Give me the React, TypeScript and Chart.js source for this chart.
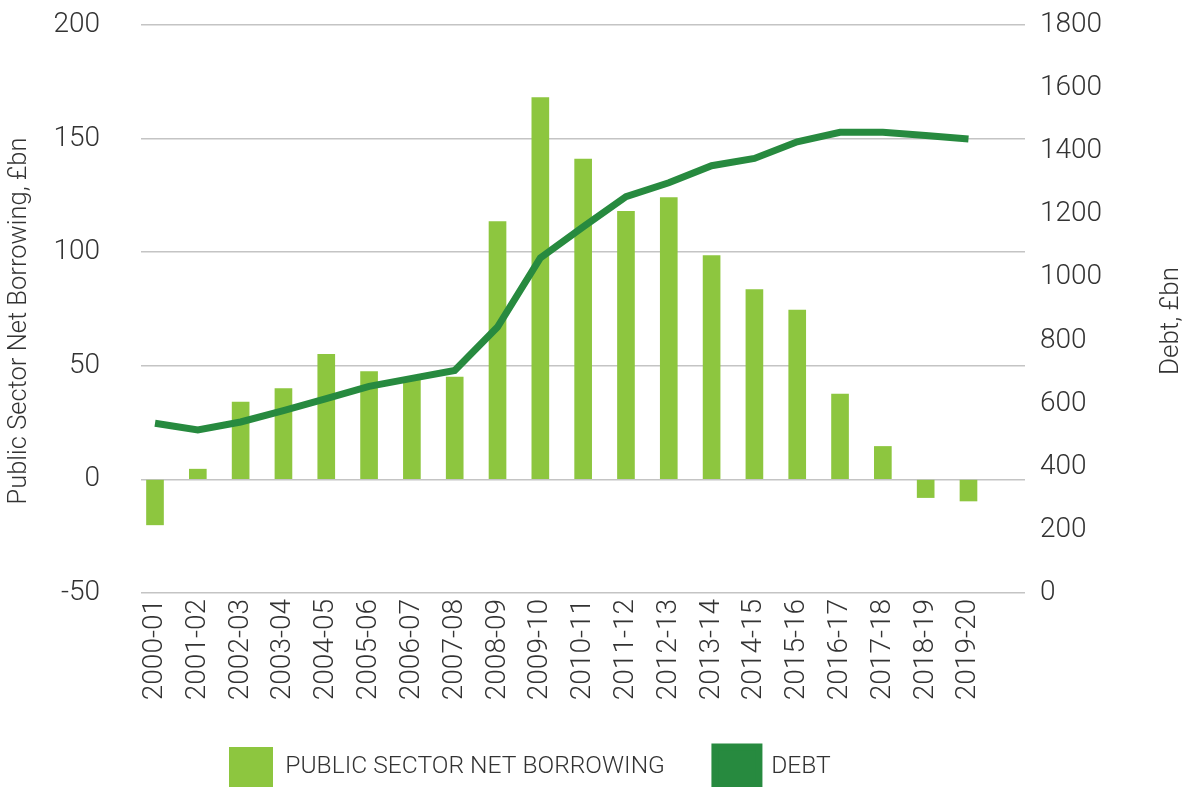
import React, { useEffect, useRef } from "react";
import { Chart, registerables } from "chart.js";

Chart.register(...registerables);

const categories = [
  "2000-01", "2001-02", "2002-03", "2003-04", "2004-05", "2005-06", "2006-07",
  "2007-08", "2008-09", "2009-10", "2010-11", "2011-12", "2012-13", "2013-14",
  "2014-15", "2015-16", "2016-17", "2017-18", "2018-19", "2019-20",
];

const borrowing = [
  -20, 4.5, 34, 40, 55, 47.5, 44, 45, 113.5, 168, 141, 118, 124, 98.5, 83.5, 74.5, 37.5, 14.5, -8, -9.5,
];

const debt = [
  538, 517, 542, 578, 616, 655, 680, 705, 843, 1062, 1160, 1256, 1300, 1354, 1377, 1430, 1460, 1460, 1450, 1439,
];

const leftTicks = [-50, 0, 50, 100, 150, 200];
const rightTicks = [0, 200, 400, 600, 800, 1000, 1200, 1400, 1600, 1800];

const LEFT_TITLE = "Public Sector Net Borrowing, £bn";
const RIGHT_TITLE = "Debt, £bn";
const BAR_LABEL = "PUBLIC SECTOR NET BORROWING";
const LINE_LABEL = "DEBT";

const BAR_COLOR = "#8DC63F";
const LINE_COLOR = "#278A3F";
const TEXT_COLOR = "#333333";
const GRID_COLOR = "#c4c4c4";
const FONT = "Roboto";

const axisTitlesPlugin = {
  id: "axisTitles",
  afterDraw(chart: any) {
    const ctx = chart.ctx;
    const { top, bottom } = chart.chartArea;
    const cy = (top + bottom) / 2 + 12;
    ctx.save();
    ctx.fillStyle = TEXT_COLOR;
    ctx.font = `300 25.5px ${FONT}`;
    ctx.textAlign = "center";
    ctx.textBaseline = "middle";
    const lx = chart.scales.y.left + 14;
    ctx.translate(lx, cy);
    ctx.rotate(-Math.PI / 2);
    ctx.fillText(LEFT_TITLE, 0, 0);
    ctx.restore();
    ctx.save();
    ctx.fillStyle = TEXT_COLOR;
    ctx.font = `300 26px ${FONT}`;
    ctx.textAlign = "center";
    ctx.textBaseline = "middle";
    const rx = chart.scales.y1.right - 14;
    ctx.translate(rx, cy);
    ctx.rotate(-Math.PI / 2);
    ctx.fillText(RIGHT_TITLE, 0, 0);
    ctx.restore();
  },
};

const legendPlacementPlugin = {
  id: "legendPlacement",
  afterLayout(chart: any) {
    const lg = chart.legend;
    if (!lg) return;
    const pad = lg.options.labels.padding;
    const h = 100;
    const w = lg.width;
    lg.left = 229 - pad;
    lg.right = lg.left + w;
    lg.top = 747 - pad;
    lg.bottom = lg.top + h;
  },
};

export default function App() {
  const ref = useRef<HTMLCanvasElement | null>(null);

  useEffect(() => {
    if (!ref.current) return;
    const chart = new Chart(ref.current, {
      type: "bar",
      data: {
        datasets: [
          {
            type: "bar",
            label: BAR_LABEL,
            data: borrowing.map((v, i) => ({ x: i, y: v })),
            backgroundColor: BAR_COLOR,
            borderWidth: 0,
            barThickness: 17,
            yAxisID: "y",
            xAxisID: "x",
            order: 1,
          },
          {
            type: "line",
            label: LINE_LABEL,
            data: debt.map((v, i) => ({ x: i, y: v })),
            borderColor: LINE_COLOR,
            backgroundColor: LINE_COLOR,
            borderWidth: 7,
            pointRadius: 0,
            tension: 0,
            borderCapStyle: "butt",
            borderJoinStyle: "miter",
            yAxisID: "y1",
            xAxisID: "x",
            order: 0,
          },
        ] as any,
      },
      options: {
        animation: false,
        responsive: false,
        devicePixelRatio: 1,
        layout: { padding: { top: 25, left: 6, right: 4, bottom: 0 } },
        plugins: {
          tooltip: { enabled: false },
          legend: {
            position: "bottom",
            align: "start",
            maxHeight: 10,
            labels: {
              boxWidth: 44,
              boxHeight: 40,
              padding: 50,
              color: TEXT_COLOR,
              font: { family: FONT, size: 24.6, weight: "300" as any },
              sort: (a: any, b: any) => a.datasetIndex - b.datasetIndex,
            },
          },
        },
        scales: {
          x: {
            type: "linear",
            offset: false,
            min: -0.327,
            max: 20.32,
            grid: { display: false, drawTicks: false, offset: false },
            border: { display: false },
            afterBuildTicks: (scale: any) => {
              scale.ticks = categories.map((_, i) => ({ value: i }));
            },
            afterFit: (scale: any) => {
              const lh = scale.chart.legend ? scale.chart.legend.height : 0;
              scale.height = Math.max(10, scale.chart.height - lh - 593);
              scale.paddingLeft = 0;
              scale.paddingRight = 0;
            },
            ticks: {
              autoSkip: false,
              maxRotation: 90,
              minRotation: 90,
              padding: 6,
              color: TEXT_COLOR,
              font: { family: FONT, size: 28, weight: "300" as any },
              callback: (v: any) => categories[v as number] ?? "",
            },
          },
          y: {
            type: "linear",
            position: "left",
            min: -50,
            max: 200,
            afterBuildTicks: (scale: any) => {
              scale.ticks = leftTicks.map((v) => ({ value: v }));
            },
            afterFit: (scale: any) => {
              scale.width = 141 - 6;
              scale.paddingTop = 0;
              scale.paddingBottom = 0;
            },
            grid: { color: GRID_COLOR, lineWidth: 1.5, drawTicks: false },
            border: { display: false },
            ticks: {
              padding: 41,
              color: TEXT_COLOR,
              font: { family: FONT, size: 28, weight: "300" as any },
            },
          },
          y1: {
            type: "linear",
            position: "right",
            min: 0,
            max: 1800,
            afterBuildTicks: (scale: any) => {
              scale.ticks = rightTicks.map((v) => ({ value: v }));
            },
            afterFit: (scale: any) => {
              scale.width = 1189 - 4 - 1025;
              scale.paddingTop = 0;
              scale.paddingBottom = 0;
            },
            grid: { display: false, drawTicks: false },
            border: { display: false },
            ticks: {
              padding: 15,
              color: TEXT_COLOR,
              font: { family: FONT, size: 28, weight: "300" as any },
              callback: (v: any) => String(v),
            },
          },
        },
      },
      plugins: [axisTitlesPlugin, legendPlacementPlugin],
    } as any);
    return () => chart.destroy();
  }, []);

  return (
    <div style={{ position: "absolute", left: 0, top: 0, width: 1189, height: 787, background: "#fff" }}>
      <canvas ref={ref} width={1189} height={787} style={{ display: "block" }} />
    </div>
  );
}
